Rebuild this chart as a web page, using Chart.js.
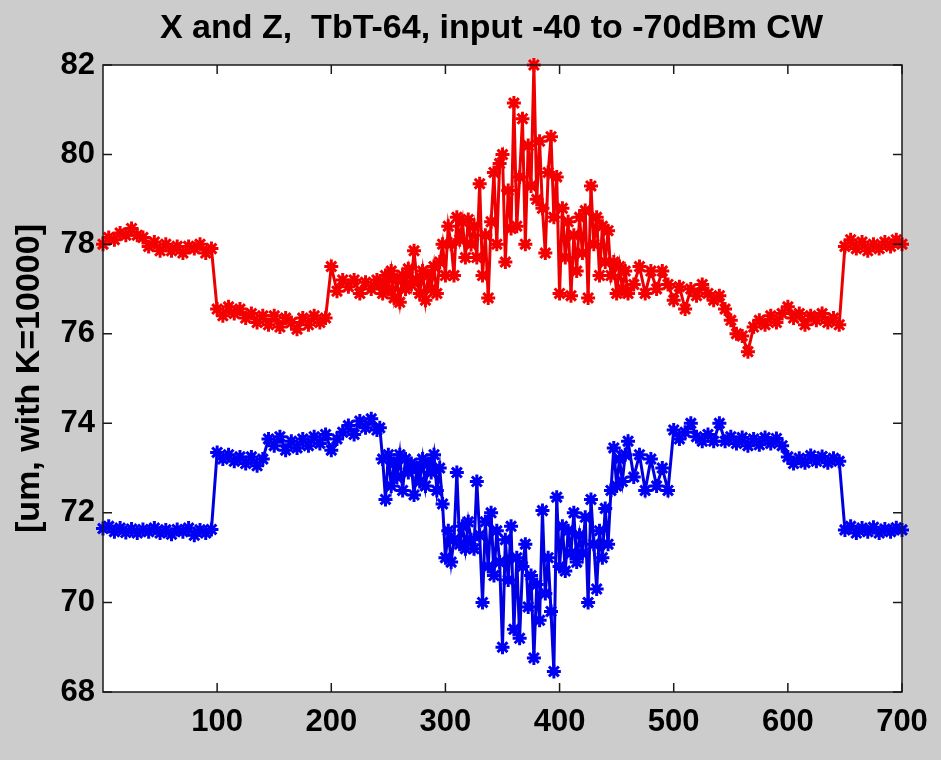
<!DOCTYPE html>
<html>
<head>
<meta charset="utf-8">
<script src="https://cdn.jsdelivr.net/npm/chart.js@4.4.1/dist/chart.umd.min.js"></script>
<style>
  html, body { margin: 0; padding: 0; background: #cccccc; }
  #wrap { width: 941px; height: 760px; }
</style>
</head>
<body>
<div id="wrap"><canvas id="tbt-chart" width="941" height="760"></canvas></div>
<script>
// sampling grid of turn numbers: every 5 turns, every 2.5 in the noisy middle
function range(start, stop, step) {
  const out = [];
  for (let t = start; t <= stop + 1e-9; t += step) out.push(t);
  return out;
}
const sampleTurns = [...range(0, 240, 5), ...range(242.5, 460, 2.5), ...range(465, 700, 5)];

// X (red) position readings, um (K=10000)
const xPosition = [
  // 0 .. 240 (step 5)
  78.0, 78.15, 78.1, 78.25, 78.2, 78.35, 78.2, 78.15, 77.95, 78.05,
  77.85, 78.0, 77.85, 77.95, 77.8, 77.95, 77.9, 78.0, 77.8, 77.9,
  76.55, 76.4, 76.6, 76.45, 76.55, 76.35, 76.45, 76.25, 76.4, 76.2,
  76.4, 76.15, 76.35, 76.25, 76.1, 76.35, 76.2, 76.4, 76.25, 76.35,
  77.5, 76.95, 77.2, 77.05, 77.2, 76.9, 77.15, 77.0, 77.2,
  // 242.5 .. 460 (step 2.5)
  77.1, 76.9, 77.3, 77.0, 77.4, 76.8, 77.2, 76.7, 77.3, 77.0,
  77.45, 77.1, 77.85, 77.2, 76.9, 77.4, 76.75, 77.3, 77.0, 77.5,
  76.9, 77.6, 78.0, 77.3, 78.4, 78.0, 77.3, 78.6, 78.1, 78.5,
  77.7, 78.55, 78.0, 78.4, 77.7, 79.35, 77.3, 78.2, 76.8, 78.5,
  79.6, 78.0, 79.8, 80.0, 77.6, 79.2, 78.35, 81.15, 78.4, 79.5,
  80.8, 78.0, 80.2, 79.3, 82.0, 79.0, 80.3, 78.8, 77.8, 79.6,
  80.4, 78.6, 79.5, 76.9, 78.8, 77.7, 78.5, 76.85, 78.2, 77.4,
  78.6, 77.8, 78.75, 76.8, 79.3, 78.0, 78.6, 77.3, 78.4, 77.6,
  78.3, 77.3, 77.6, 76.9, 77.5, 77.0, 77.4, 76.9,
  // 465 .. 700 (step 5)
  77.1, 77.5, 76.9, 77.4, 77.0, 77.4, 77.1,
  76.75, 77.05, 76.55, 77.0, 76.85, 77.1, 76.9, 76.75, 76.85, 76.55,
  76.3, 76.0, 75.95, 75.6, 76.15, 76.3, 76.2, 76.4, 76.25, 76.45,
  76.6, 76.35, 76.45, 76.2, 76.4, 76.3, 76.45, 76.25, 76.35, 76.2,
  77.95, 78.1, 77.9, 78.05, 77.85, 78.0, 77.9, 78.05, 77.95, 78.1,
  78.0
];

// Z (blue) position readings, um (K=10000)
const zPosition = [
  // 0 .. 240 (step 5)
  71.65, 71.7, 71.58, 71.66, 71.56, 71.64, 71.55, 71.63, 71.58, 71.66,
  71.55, 71.62, 71.52, 71.63, 71.58, 71.66, 71.5, 71.62, 71.55, 71.63,
  73.35, 73.2, 73.3, 73.15, 73.25, 73.1, 73.25, 73.05, 73.2, 73.65,
  73.5, 73.7, 73.4, 73.6, 73.45, 73.65, 73.5, 73.7, 73.55, 73.75,
  73.4, 73.65, 73.8, 73.95, 73.75, 74.05, 73.9, 74.1, 73.85,
  // 242.5 .. 460 (step 2.5)
  73.9, 73.2, 72.3, 73.3, 72.6, 73.1, 72.8, 73.3, 72.5, 73.2,
  72.9, 73.1, 72.4, 73.0, 72.7, 73.2, 72.6, 73.1, 72.9, 73.3,
  72.5, 73.0, 72.2, 71.0, 71.6, 70.9, 71.4, 72.9, 71.3, 71.7,
  71.2, 71.8, 71.4, 71.2, 72.7, 71.5, 70.0, 71.8, 70.8, 72.0,
  70.6, 71.6, 70.9, 69.0, 71.4, 70.5, 71.7, 69.4, 71.0, 69.2,
  70.8, 71.3, 69.9, 70.6, 68.76, 70.4, 69.6, 72.05, 70.2, 71.0,
  69.8, 68.46, 72.35, 70.8, 71.7, 70.7, 71.6, 71.1, 72.0, 70.9,
  71.5, 71.1, 71.9, 70.0, 72.3, 71.3, 70.3, 71.6, 71.0, 72.1,
  71.3, 72.5, 73.45, 72.6, 73.2, 72.7, 73.3, 73.6,
  // 465 .. 700 (step 5)
  72.8, 73.3, 72.5, 73.2, 72.6, 73.0, 72.5,
  73.85, 73.65, 73.8, 74.0, 73.7, 73.6, 73.75, 73.6, 74.0, 73.6,
  73.7, 73.55, 73.68, 73.5, 73.65, 73.52, 73.68, 73.55, 73.66, 73.5,
  73.25, 73.1, 73.22, 73.12, 73.28, 73.15, 73.26, 73.12, 73.22, 73.15,
  71.62, 71.7, 71.55, 71.66, 71.58, 71.68, 71.55, 71.64, 71.58, 71.67,
  71.62
];

const xTickLabels = [100, 200, 300, 400, 500, 600, 700];
const yTickLabels = [68, 70, 72, 74, 76, 78, 80, 82];
const chartTitle = "X and Z,  TbT-64, input -40 to -70dBm CW";

const labelFont = "'Liberation Sans', Arial, Helvetica, sans-serif";

function toPoints(values) {
  return values.map((v, i) => ({ x: sampleTurns[i], y: v }));
}

// white plot box, black frame, inward ticks on all four sides, title over the box
const frameBox = {
  id: "frameBox",
  beforeDatasetsDraw(chart) {
    const { ctx, chartArea: a } = chart;
    ctx.save();
    ctx.fillStyle = "#ffffff";
    ctx.fillRect(a.left, a.top, a.right - a.left, a.bottom - a.top);
    ctx.restore();
  },
  afterDatasetsDraw(chart) {
    const { ctx, chartArea: a, scales } = chart;
    const tick = 9;
    ctx.save();
    ctx.strokeStyle = "#1a1a1a";
    ctx.lineWidth = 1.5;
    ctx.strokeRect(a.left, a.top, a.right - a.left, a.bottom - a.top);
    ctx.beginPath();
    xTickLabels.forEach((v) => {
      const px = scales.x.getPixelForValue(v);
      ctx.moveTo(px, a.bottom);
      ctx.lineTo(px, a.bottom - tick);
      ctx.moveTo(px, a.top);
      ctx.lineTo(px, a.top + tick);
    });
    yTickLabels.forEach((v) => {
      const py = scales.y.getPixelForValue(v);
      ctx.moveTo(a.left, py);
      ctx.lineTo(a.left + tick, py);
      ctx.moveTo(a.right, py);
      ctx.lineTo(a.right - tick, py);
    });
    ctx.stroke();

    // title, centred a little right of the canvas middle like the original
    ctx.fillStyle = "#000000";
    ctx.font = "bold 34px " + labelFont;
    ctx.textAlign = "center";
    ctx.textBaseline = "middle";
    ctx.fillText(chartTitle, (a.left + a.right) / 2 - 11, 29);
    ctx.restore();
  },
};

const ctx = document.getElementById("tbt-chart");

new Chart(ctx, {
  type: "line",
  data: {
    datasets: [
      {
        label: "X",
        data: toPoints(xPosition),
        borderColor: "#ee0000",
        backgroundColor: "#ff0000",
        borderWidth: 3,
        pointStyle: "star",
        pointRadius: 7,
        pointBorderWidth: 3,
        pointBorderColor: "#f40000",
        tension: 0,
      },
      {
        label: "Z",
        data: toPoints(zPosition),
        borderColor: "#0000e0",
        backgroundColor: "#0000ff",
        borderWidth: 3,
        pointStyle: "star",
        pointRadius: 7,
        pointBorderWidth: 3,
        pointBorderColor: "#0000f4",
        tension: 0,
      },
    ],
  },
  plugins: [frameBox],
  options: {
    responsive: false,
    animation: false,
    clip: false,
    layout: {
      padding: { left: 0, right: 39, top: 65, bottom: 0 },
    },
    plugins: {
      legend: { display: false },
      tooltip: { enabled: false },
      title: { display: false },
    },
    scales: {
      x: {
        type: "linear",
        min: 0,
        max: 700,
        grid: { display: false, drawTicks: false },
        border: { display: false },
        afterBuildTicks(scale) {
          scale.ticks = xTickLabels.map((v) => ({ value: v }));
        },
        afterFit(scale) {
          scale.height = 68;
        },
        ticks: {
          color: "#000000",
          padding: 12,
          maxRotation: 0,
          font: { family: labelFont, size: 31, weight: "bold" },
        },
      },
      y: {
        min: 68,
        max: 82,
        grid: { display: false, drawTicks: false },
        border: { display: false },
        afterBuildTicks(scale) {
          scale.ticks = yTickLabels.map((v) => ({ value: v }));
        },
        afterFit(scale) {
          scale.width = 103;
        },
        ticks: {
          color: "#000000",
          padding: 8,
          font: { family: labelFont, size: 31, weight: "bold" },
        },
        title: {
          display: true,
          text: "[um, with K=10000]",
          color: "#000000",
          font: { family: labelFont, size: 34, weight: "bold" },
          padding: { top: 9, bottom: 0 },
        },
      },
    },
  },
});
</script>
</body>
</html>
